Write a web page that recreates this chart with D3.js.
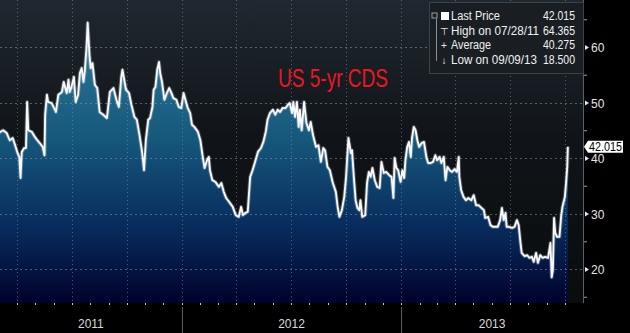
<!DOCTYPE html>
<html>
<head>
<meta charset="utf-8">
<script src="https://cdn.jsdelivr.net/npm/d3@7"></script>
<style>
  html, body { margin: 0; padding: 0; background: #000; }
  svg { display: block; }
  text { font-family: "Liberation Sans Narrow", "Liberation Sans", Arial, sans-serif; }
</style>
</head>
<body>
<svg id="chart" width="630" height="333"></svg>
<script>
// Values, one point every few days.
var dates = [
  "2011-03-01","2011-03-04","2011-03-09","2011-03-15","2011-03-20","2011-03-25","2011-03-29","2011-04-02","2011-04-05","2011-04-07",
  "2011-04-09","2011-04-13","2011-04-16","2011-04-18","2011-04-20","2011-04-26","2011-05-01","2011-05-05","2011-05-09","2011-05-14",
  "2011-05-17","2011-05-18","2011-05-21","2011-05-23","2011-05-29","2011-06-02","2011-06-05","2011-06-09","2011-06-15","2011-06-18",
  "2011-06-23","2011-06-26","2011-06-28","2011-07-01","2011-07-05","2011-07-08","2011-07-12","2011-07-15","2011-07-18","2011-07-21",
  "2011-07-23","2011-07-26","2011-07-28","2011-07-31","2011-08-02","2011-08-05","2011-08-09","2011-08-13","2011-08-17","2011-08-23",
  "2011-08-29","2011-09-03","2011-09-09","2011-09-14","2011-09-18","2011-09-22","2011-09-24","2011-09-28","2011-09-30","2011-10-05",
  "2011-10-09","2011-10-14","2011-10-18","2011-10-23","2011-10-27","2011-10-30","2011-11-02","2011-11-06","2011-11-09","2011-11-13",
  "2011-11-15","2011-11-18","2011-11-21","2011-11-24","2011-11-26","2011-11-29","2011-12-03","2011-12-07","2011-12-11","2011-12-14",
  "2011-12-18","2011-12-23","2011-12-27","2011-12-31","2012-01-04","2012-01-07","2012-01-11","2012-01-15","2012-01-18","2012-01-22",
  "2012-01-28","2012-02-01","2012-02-05","2012-02-08","2012-02-12","2012-02-15","2012-02-17","2012-02-21","2012-02-26","2012-03-03",
  "2012-03-07","2012-03-11","2012-03-15","2012-03-20","2012-03-26","2012-03-31","2012-04-05","2012-04-09","2012-04-12","2012-04-16",
  "2012-04-20","2012-04-24","2012-04-28","2012-05-03","2012-05-07","2012-05-12","2012-05-16","2012-05-20","2012-05-23","2012-05-27",
  "2012-06-01","2012-06-05","2012-06-09","2012-06-13","2012-06-17","2012-06-22","2012-06-26","2012-06-29","2012-07-03","2012-07-05",
  "2012-07-08","2012-07-11","2012-07-14","2012-07-16","2012-07-19","2012-07-23","2012-07-27","2012-07-31","2012-08-03","2012-08-07",
  "2012-08-12","2012-08-16","2012-08-20","2012-08-24","2012-08-27","2012-08-31","2012-09-04","2012-09-09","2012-09-14","2012-09-17",
  "2012-09-20","2012-09-24","2012-09-28","2012-10-01","2012-10-05","2012-10-09","2012-10-11","2012-10-14","2012-10-17","2012-10-20",
  "2012-10-23","2012-10-25","2012-10-28","2012-11-02","2012-11-05","2012-11-08","2012-11-11","2012-11-14","2012-11-18","2012-11-22",
  "2012-11-26","2012-11-29","2012-12-03","2012-12-07","2012-12-12","2012-12-16","2012-12-19","2012-12-21","2012-12-24","2012-12-27",
  "2012-12-31","2013-01-03","2013-01-06","2013-01-08","2013-01-11","2013-01-14","2013-01-17","2013-01-19","2013-01-22","2013-01-25",
  "2013-01-28","2013-01-31","2013-02-04","2013-02-08","2013-02-12","2013-02-15","2013-02-19","2013-02-23","2013-02-27","2013-03-02",
  "2013-03-06","2013-03-09","2013-03-13","2013-03-16","2013-03-19","2013-03-23","2013-03-27","2013-03-31","2013-04-04","2013-04-07",
  "2013-04-08","2013-04-11","2013-04-15","2013-04-19","2013-04-23","2013-04-28","2013-05-02","2013-05-06","2013-05-10","2013-05-15",
  "2013-05-19","2013-05-21","2013-05-26","2013-05-30","2013-06-03","2013-06-07","2013-06-11","2013-06-15","2013-06-18","2013-06-21",
  "2013-06-24","2013-06-26","2013-06-30","2013-07-05","2013-07-09","2013-07-13","2013-07-16","2013-07-19","2013-07-21","2013-07-26",
  "2013-07-30","2013-08-03","2013-08-07","2013-08-10","2013-08-14","2013-08-17","2013-08-21","2013-08-25","2013-08-29","2013-09-03",
  "2013-09-07","2013-09-09","2013-09-11","2013-09-13","2013-09-15","2013-09-18","2013-09-22","2013-09-25","2013-09-27","2013-10-01",
  "2013-10-03","2013-10-05","2013-10-06"
];
var cds = [
  44.4, 44.7, 45.0, 44.5, 43.2, 43.6, 42.3, 40.9, 40.2, 36.4,
  41.1, 41.8, 41.8, 50.1, 45.0, 44.7, 43.8, 43.2, 42.7, 42.0,
  40.5, 47.8, 51.4, 50.1, 49.9, 49.0, 48.3, 51.4, 51.9, 53.7,
  51.7, 54.1, 51.9, 52.8, 54.6, 50.1, 51.4, 55.3, 56.2, 53.7,
  55.5, 59.8, 64.365, 58.6, 56.2, 57.1, 53.2, 52.6, 48.3, 47.8,
  47.2, 51.9, 52.6, 50.5, 49.2, 54.6, 55.9, 53.5, 52.3, 51.7,
  49.6, 47.4, 46.9, 43.8, 40.9, 37.8, 43.2, 46.9, 47.2, 49.2,
  52.3, 52.8, 55.9, 57.3, 55.3, 53.7, 50.5, 51.7, 52.6, 51.9,
  50.8, 50.5, 49.2, 49.0, 51.7, 50.5, 49.0, 48.1, 46.0, 45.6,
  44.7, 43.2, 40.2, 38.2, 39.6, 40.2, 37.8, 36.0, 35.7, 34.8,
  35.5, 33.9, 32.8, 32.1, 31.2, 29.7, 29.4, 31.2, 29.7, 30.1,
  30.3, 36.6, 37.8, 39.6, 41.1, 41.8, 42.9, 44.7, 46.9, 48.1,
  48.7, 47.8, 48.7, 48.3, 49.0, 49.0, 49.6, 49.9, 48.1, 50.1,
  47.4, 50.1, 45.6, 48.7, 45.0, 50.1, 46.3, 45.0, 46.5, 44.1,
  42.0, 42.3, 39.3, 41.8, 41.4, 38.4, 37.8, 35.5, 33.9, 31.2,
  29.4, 30.6, 33.0, 36.6, 43.6, 40.9, 41.4, 36.6, 32.4, 31.0,
  30.6, 32.4, 29.4, 29.7, 35.5, 37.5, 36.6, 38.2, 36.0, 34.8,
  34.6, 39.3, 37.3, 37.5, 36.9, 36.6, 32.8, 40.0, 38.2, 37.8,
  35.7, 37.8, 36.4, 39.6, 42.0, 42.9, 40.2, 43.6, 45.6, 45.0,
  43.2, 42.0, 42.7, 42.9, 40.2, 39.1, 39.1, 39.3, 40.5, 39.6,
  40.2, 39.1, 40.2, 36.0, 38.4, 37.8, 37.5, 38.0, 37.5, 40.2,
  36.6, 34.2, 33.0, 32.4, 32.8, 32.4, 33.3, 31.5, 31.5, 31.0,
  30.6, 29.2, 29.4, 27.9, 27.6, 27.6, 27.6, 28.8, 31.0, 28.8,
  30.1, 27.6, 27.6, 27.4, 27.6, 28.8, 27.9, 24.7, 22.9, 22.3,
  22.5, 22.0, 22.2, 21.3, 22.9, 21.1, 22.5, 22.0, 22.2, 22.0,
  24.7, 18.5, 19.8, 29.2, 26.5, 25.8, 25.8, 29.7, 31.2, 33.0,
  35.5, 38.4, 42.015
];
var yTicks = [20, 30, 40, 50, 60];
var yMinorTicks = [15, 25, 35, 45, 55, 65];
var years = ["2011", "2012", "2013", "2014"];
var legendLabels = ["Last Price", "High on 07/28/11", "Average", "Low on 09/09/13"];
var legendValues = ["42.015", "64.365", "40.275", "18.500"];
var lastPrice = 42.015;
var title = "US 5-yr CDS";

var plot = {left: 0, top: 0, right: 583, bottom: 303};

var parse = d3.timeParse("%Y-%m-%d");
var data = dates.map(function (d, i) { return {date: parse(d), value: cds[i]}; });
var yearDates = years.map(function (d) { return parse(d + "-01-01"); });

var x = d3.scaleTime()
  .domain([yearDates[0], yearDates[3]])
  .range([-37, 620]);
var y = d3.scaleLinear().domain([20, 60]).range([269, 47]);

var svg = d3.select("#chart");
var defs = svg.append("defs");

// Dark plot background, a bit lighter at the top.
var bg = defs.append("linearGradient").attr("id", "bg")
  .attr("x1", 0).attr("y1", 0).attr("x2", 0).attr("y2", 1);
bg.append("stop").attr("offset", "0%").attr("stop-color", "#1f2830");
bg.append("stop").attr("offset", "45%").attr("stop-color", "#101418");
bg.append("stop").attr("offset", "100%").attr("stop-color", "#0a0c0e");

// Area fill: teal at the top fading to navy at the bottom.
var fill = defs.append("linearGradient").attr("id", "fill")
  .attr("gradientUnits", "userSpaceOnUse")
  .attr("x1", 0).attr("y1", 20).attr("x2", 0).attr("y2", plot.bottom);
fill.append("stop").attr("offset", "0%").attr("stop-color", "#2f7a98");
fill.append("stop").attr("offset", "40%").attr("stop-color", "#175a7e");
fill.append("stop").attr("offset", "72%").attr("stop-color", "#082d5e");
fill.append("stop").attr("offset", "100%").attr("stop-color", "#01022c");

defs.append("clipPath").attr("id", "clip").append("rect")
  .attr("x", plot.left).attr("y", plot.top)
  .attr("width", plot.right - plot.left).attr("height", plot.bottom - plot.top);

svg.append("rect")
  .attr("x", plot.left).attr("y", plot.top)
  .attr("width", plot.right - plot.left).attr("height", plot.bottom - plot.top)
  .attr("fill", "url(#bg)");

var g = svg.append("g").attr("clip-path", "url(#clip)");

var area = d3.area()
  .x(function (d) { return x(d.date); })
  .y0(plot.bottom)
  .y1(function (d) { return y(d.value); });

var line = d3.line()
  .x(function (d) { return x(d.date); })
  .y(function (d) { return y(d.value); });

g.append("path").datum(data).attr("d", area).attr("fill", "url(#fill)");

// Dotted grid, quarterly verticals and one line per 10 bp.
var quarters = d3.timeMonth.every(3).range(x.invert(plot.left), x.invert(plot.right));
g.selectAll(".vgrid").data(quarters).join("line")
  .attr("class", "vgrid")
  .attr("x1", function (d) { return Math.round(x(d)) + 0.5; })
  .attr("x2", function (d) { return Math.round(x(d)) + 0.5; })
  .attr("y1", plot.top).attr("y2", plot.bottom)
  .attr("stroke", "#8a9aa8").attr("stroke-opacity", 0.55)
  .attr("stroke-dasharray", "1,3");

g.selectAll(".hgrid").data(yTicks).join("line")
  .attr("class", "hgrid")
  .attr("x1", plot.left).attr("x2", plot.right)
  .attr("y1", function (d) { return Math.round(y(d)) + 0.5; })
  .attr("y2", function (d) { return Math.round(y(d)) + 0.5; })
  .attr("stroke", "#8a9aa8").attr("stroke-opacity", 0.55)
  .attr("stroke-dasharray", "2,3");

g.append("path").datum(data).attr("d", line)
  .attr("fill", "none").attr("stroke", "#ffffff").attr("stroke-opacity", 0.25)
  .attr("stroke-width", 3.8).attr("stroke-linejoin", "round");
g.append("path").datum(data).attr("d", line)
  .attr("fill", "none").attr("stroke", "#f6f8fa")
  .attr("stroke-width", 1.9).attr("stroke-linejoin", "round");

// Right axis.
svg.append("line")
  .attr("x1", plot.right + 0.5).attr("x2", plot.right + 0.5)
  .attr("y1", plot.top).attr("y2", plot.bottom)
  .attr("stroke", "#5a6068");

var minor = svg.append("g")
  .attr("transform", "translate(" + (plot.right + 1) + ",0)")
  .call(d3.axisRight(y).tickValues(yMinorTicks).tickSize(3).tickFormat(""));
minor.select(".domain").remove();
minor.selectAll("line").attr("stroke", "#9aa0a6");

var yAxis = svg.append("g")
  .attr("transform", "translate(" + (plot.right + 1) + ",0)")
  .call(d3.axisRight(y).tickValues(yTicks).tickSize(0).tickPadding(7));
yAxis.select(".domain").remove();
yAxis.selectAll(".tick").append("path")
  .attr("d", "M1,-2.5L5,0L1,2.5Z").attr("fill", "#e8e8e8");
yAxis.selectAll("text")
  .attr("fill", "#e4e4e4").attr("font-size", 12)
  .attr("dy", "0.38em")
  .style("font-family", "'Liberation Sans Narrow', 'Liberation Sans', Arial, sans-serif");

// Bottom axis: monthly ticks, year separators and labels.
var months = d3.timeMonth.range(x.invert(plot.left), x.invert(plot.right));
svg.selectAll(".mtick").data(months).join("line")
  .attr("class", "mtick")
  .attr("x1", function (d) { return Math.round(x(d)) + 0.5; })
  .attr("x2", function (d) { return Math.round(x(d)) + 0.5; })
  .attr("y1", plot.bottom).attr("y2", plot.bottom + 2)
  .attr("stroke", "#c8c8c8");

svg.selectAll(".ysep").data(yearDates.slice(1, 3)).join("line")
  .attr("class", "ysep")
  .attr("x1", function (d) { return Math.round(x(d)) + 0.5; })
  .attr("x2", function (d) { return Math.round(x(d)) + 0.5; })
  .attr("y1", plot.bottom + 4).attr("y2", 333)
  .attr("stroke", "#5a5a5a");

svg.selectAll(".year").data(years.slice(0, 3)).join("text")
  .attr("class", "year")
  .attr("x", function (d, i) {
    var a = Math.max(x(yearDates[i]), plot.left);
    var b = Math.min(x(yearDates[i + 1]), plot.right);
    return (a + b) / 2;
  })
  .attr("y", 328)
  .attr("text-anchor", "middle")
  .attr("fill", "#d8d8d8").attr("font-size", 12)
  .text(function (d) { return d; });

// Title.
svg.append("text")
  .attr("x", 278).attr("y", 87)
  .attr("fill", "#ee1620").attr("font-size", 26)
  .attr("textLength", 110).attr("lengthAdjust", "spacingAndGlyphs")
  .text(title);

// Legend box, top right.
var lg = svg.append("g").attr("transform", "translate(429,2)");
lg.append("rect")
  .attr("x", 0.5).attr("y", 0.5).attr("width", 154).attr("height", 71)
  .attr("fill", "#191e23").attr("stroke", "#3c4248");
lg.append("rect").attr("x", 3).attr("y", 11).attr("width", 5).attr("height", 5)
  .attr("fill", "none").attr("stroke", "#9aa0a6");
lg.append("line").attr("x1", 7.5).attr("x2", 7.5).attr("y1", 17).attr("y2", 59)
  .attr("stroke", "#8a9096");
lg.append("rect").attr("x", 12).attr("y", 10).attr("width", 8).attr("height", 8)
  .attr("fill", "#ffffff");

// Widths measured on the reference, the Bloomberg font is very narrow.
var labelWidths = [49, 88, 40, 86];
var markers = ["", "\u22a4", "+", "\u2193"];
var rows = lg.selectAll(".row").data(legendLabels).join("g")
  .attr("class", "row")
  .attr("transform", function (d, i) { return "translate(0," + (18 + i * 14.6) + ")"; });
rows.append("text").attr("x", 15).attr("text-anchor", "middle")
  .attr("fill", "#e8e8e8").attr("font-size", 10)
  .text(function (d, i) { return markers[i]; });
rows.append("text").attr("x", 22)
  .attr("fill", "#f0f0f0").attr("font-size", 12.5)
  .attr("textLength", function (d, i) { return labelWidths[i]; })
  .attr("lengthAdjust", "spacingAndGlyphs")
  .text(function (d) { return d; });
rows.append("text").attr("x", 114)
  .attr("fill", "#f0f0f0").attr("font-size", 12.5)
  .attr("textLength", 32).attr("lengthAdjust", "spacingAndGlyphs")
  .text(function (d, i) { return legendValues[i]; });

// Last price tag on the axis.
var ly = y(lastPrice);
svg.append("path")
  .attr("d", "M584," + ly + "L588," + (ly - 6) + "L623," + (ly - 6) + "L623," + (ly + 6) + "L588," + (ly + 6) + "Z")
  .attr("fill", "#ffffff");
svg.append("text")
  .attr("x", 589).attr("y", ly + 4.5)
  .attr("fill", "#000").attr("font-size", 12.5)
  .attr("textLength", 33).attr("lengthAdjust", "spacingAndGlyphs")
  .text(d3.format(".3f")(lastPrice));
</script>
</body>
</html>
